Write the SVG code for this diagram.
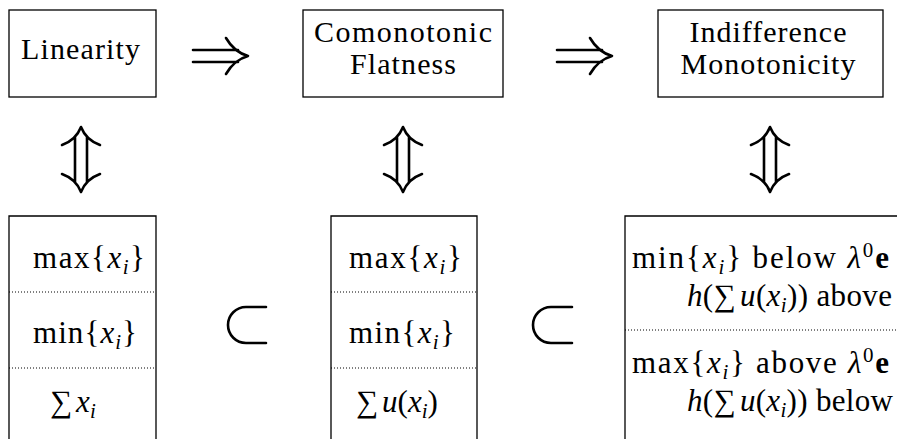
<svg xmlns="http://www.w3.org/2000/svg" width="897" height="439" viewBox="0 0 897 439">
<style>
.box{fill:none;stroke:#000;stroke-width:1.3}
.dot{stroke:#000;stroke-width:1;stroke-dasharray:1,2}
text{font-family:"Liberation Serif","DejaVu Serif",serif}
.t{font-size:30px;fill:#000}
.m{font-size:31px;fill:#000}
.it{font-style:italic}
.sub{font-size:21px;font-style:italic}
.sup{font-size:21px}
.arr{fill:none;stroke:#000;stroke-width:2.6;stroke-linecap:round;stroke-linejoin:round}
</style>
<rect width="897" height="439" fill="#fff"/>
<g id="linearity">
<rect class="box" x="9" y="10" width="147" height="87"/>
<text class="t" x="21" y="59" textLength="119" lengthAdjust="spacing">Linearity</text>
</g>
<g id="comonotonic-flatness">
<rect class="box" x="303" y="10" width="200" height="87"/>
<text class="t" x="403" y="42" text-anchor="middle" textLength="178" lengthAdjust="spacing">Comonotonic</text>
<text class="t" x="403" y="74" text-anchor="middle" textLength="106" lengthAdjust="spacing">Flatness</text>
</g>
<g id="indifference-monotonicity">
<rect class="box" x="658" y="10" width="225" height="87"/>
<text class="t" x="768" y="42" text-anchor="middle" textLength="157" lengthAdjust="spacing">Indifference</text>
<text class="t" x="768" y="74" text-anchor="middle" textLength="175" lengthAdjust="spacing">Monotonicity</text>
</g>
<g id="linear-forms">
<path class="box" d="M9,445 V216 H156 V445"/>
<line class="dot" x1="9" y1="292" x2="155" y2="292"/>
<line class="dot" x1="9" y1="368" x2="155" y2="368"/>
<text class="m" x="33" y="268" textLength="112" lengthAdjust="spacing">max{<tspan class="it">x</tspan><tspan class="sub" dy="6">i</tspan><tspan dy="-6">}</tspan></text>
<text class="m" x="33" y="343" textLength="104" lengthAdjust="spacing">min{<tspan class="it">x</tspan><tspan class="sub" dy="6">i</tspan><tspan dy="-6">}</tspan></text>
<text class="m" x="50" y="412">∑<tspan class="it" dx="4">x</tspan><tspan class="sub" dy="6">i</tspan></text>
</g>
<g id="comonotonic-forms">
<path class="box" d="M331,445 V216 H477 V445"/>
<line class="dot" x1="331" y1="292" x2="476" y2="292"/>
<line class="dot" x1="331" y1="368" x2="476" y2="368"/>
<text class="m" x="349" y="268" textLength="113" lengthAdjust="spacing">max{<tspan class="it">x</tspan><tspan class="sub" dy="6">i</tspan><tspan dy="-6">}</tspan></text>
<text class="m" x="349" y="343" textLength="106" lengthAdjust="spacing">min{<tspan class="it">x</tspan><tspan class="sub" dy="6">i</tspan><tspan dy="-6">}</tspan></text>
<text class="m" x="356" y="412">∑<tspan class="it" dx="4">u</tspan>(<tspan class="it">x</tspan><tspan class="sub" dy="6">i</tspan><tspan dy="-6">)</tspan></text>
</g>
<g id="indifference-forms">
<path class="box" d="M625,445 V216 H900"/>
<line class="dot" x1="625" y1="330" x2="897" y2="330"/>
<text class="m" x="889" y="268" text-anchor="end" textLength="257" lengthAdjust="spacing">min{<tspan class="it">x</tspan><tspan class="sub" dy="6">i</tspan><tspan dy="-6">} below </tspan><tspan class="it">λ</tspan><tspan class="sup" dy="-11">0</tspan><tspan dy="11" font-weight="bold">e</tspan></text>
<text class="m" x="892" y="306" text-anchor="end" textLength="205" lengthAdjust="spacing"><tspan class="it">h</tspan>(∑<tspan class="it" dx="4">u</tspan>(<tspan class="it">x</tspan><tspan class="sub" dy="6">i</tspan><tspan dy="-6">)) above</tspan></text>
<text class="m" x="889" y="373" text-anchor="end" textLength="257" lengthAdjust="spacing">max{<tspan class="it">x</tspan><tspan class="sub" dy="6">i</tspan><tspan dy="-6">} above </tspan><tspan class="it">λ</tspan><tspan class="sup" dy="-11">0</tspan><tspan dy="11" font-weight="bold">e</tspan></text>
<text class="m" x="893" y="411" text-anchor="end" textLength="206" lengthAdjust="spacing"><tspan class="it">h</tspan>(∑<tspan class="it" dx="4">u</tspan>(<tspan class="it">x</tspan><tspan class="sub" dy="6">i</tspan><tspan dy="-6">)) below</tspan></text>
</g>
<g id="connectors">
<g id="implies-1">
<path class="arr" d="M193,50 H238 M193,62 H238 M226,38 Q234,52 248,56 Q234,60 226,74"/>
</g>
<g id="implies-2">
<path class="arr" d="M557,50 H602 M557,62 H602 M590,38 Q598,52 612,56 Q598,60 590,74"/>
</g>
<g id="iff-1">
<path class="arr" d="M75,137 V182 M87,137 V182 M62,145 Q76,140 81,127 Q86,140 100,145 M62,174 Q76,179 81,192 Q86,179 100,174"/>
</g>
<g id="iff-2">
<path class="arr" d="M397,137 V182 M409,137 V182 M384,145 Q398,140 403,127 Q408,140 422,145 M384,174 Q398,179 403,192 Q408,179 422,174"/>
</g>
<g id="iff-3">
<path class="arr" d="M764,137 V182 M776,137 V182 M751,145 Q765,140 770,127 Q775,140 789,145 M751,174 Q765,179 770,192 Q775,179 789,174"/>
</g>
<g id="subset-1">
<path class="arr" d="M266,307 H246 A18,18 0 0 0 246,343 H266"/>
</g>
<g id="subset-2">
<path class="arr" d="M572,307 H551 A18,18 0 0 0 551,343 H572"/>
</g>
</g>
</svg>
